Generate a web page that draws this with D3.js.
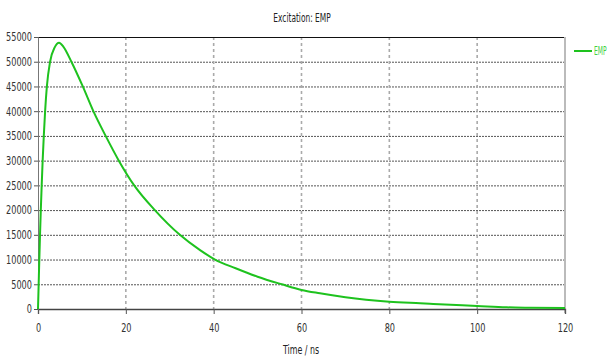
<!DOCTYPE html>
<html>
<head>
<meta charset="utf-8">
<script src="https://cdn.jsdelivr.net/npm/d3@7"></script>
<style>
  html, body { margin: 0; padding: 0; background: #fff; }
  svg { display: block; }
  text { font-family: "DejaVu Sans", "Liberation Sans", sans-serif; }
</style>
</head>
<body>
<svg id="chart" width="609" height="358"></svg>
<script>
// EMP excitation waveform: time (ns) and field amplitude
const timeNs = [0, 0.15, 0.3, 0.46, 0.64, 0.84, 1.06, 1.32, 1.62, 2.02, 2.75, 3.8, 4.8, 5.8, 7.6,
  10.2, 12.6, 15.4, 18.4, 21.9, 26.6, 32.3, 36.9, 40.3, 45, 50, 55.5, 60, 64.2, 70,
  80, 87, 90, 100, 106.7, 112, 120];
const empValues = [0, 5000, 10000, 15000, 20000, 25000, 30000, 35000, 40000, 45000, 50000, 52900, 53850, 53000, 50000,
  45000, 40000, 35000, 30000, 25000, 20000, 15000, 11900, 10000, 8230, 6530, 5000, 3850, 3170, 2370,
  1480, 1150, 1010, 610, 340, 260, 200];
const xTicks = [0, 20, 40, 60, 80, 100, 120];
const yTicks = [0, 5000, 10000, 15000, 20000, 25000, 30000, 35000, 40000, 45000, 50000, 55000];
const seriesName = "EMP";
const chartTitle = "Excitation: EMP";
const xTitle = "Time / ns";

const svg = d3.select("#chart");
const m = { left: 38, right: 565, top: 37, bottom: 309 };

const x = d3.scaleLinear().domain([0, 120]).range([m.left, m.right]);
const y = d3.scaleLinear().domain([0, 55000]).range([m.bottom, m.top]);

// narrow the glyphs to a condensed look
function condense(sel, k) {
  sel.each(function () {
    const w = this.getComputedTextLength();
    d3.select(this).attr("textLength", w * k).attr("lengthAdjust", "spacingAndGlyphs");
  });
}

// horizontal grid
svg.append("g").selectAll("line")
  .data(yTicks.filter(v => v > 0 && v < 55000))
  .join("line")
  .attr("x1", m.left).attr("x2", m.right)
  .attr("y1", d => y(d) + 0.5).attr("y2", d => y(d) + 0.5)
  .attr("stroke", "#555").attr("stroke-width", 1)
  .attr("stroke-dasharray", "2,1");

// vertical grid
svg.append("g").selectAll("line")
  .data(xTicks.filter(v => v > 0 && v < 120))
  .join("line")
  .attr("x1", d => x(d)).attr("x2", d => x(d))
  .attr("y1", m.top).attr("y2", m.bottom)
  .attr("stroke", "#aaa").attr("stroke-width", 1.6)
  .attr("stroke-dasharray", "3,3");

// frame: top black, right light gray
svg.append("line").attr("x1", m.left).attr("x2", m.right + 1)
  .attr("y1", m.top + 0.5).attr("y2", m.top + 0.5)
  .attr("stroke", "#111").attr("stroke-width", 1.2);
svg.append("line").attr("x1", m.right).attr("x2", m.right)
  .attr("y1", m.top).attr("y2", m.bottom + 4)
  .attr("stroke", "#bbb").attr("stroke-width", 2);

// axes
const xAxis = d3.axisBottom(x).tickValues(xTicks).tickSize(5).tickPadding(9).tickFormat(d3.format("d"));
const yAxis = d3.axisLeft(y).tickValues(yTicks).tickSize(4).tickPadding(2).tickFormat(d3.format("d"));

const gx = svg.append("g").attr("transform", `translate(0,${m.bottom})`).call(xAxis);
const gy = svg.append("g").attr("transform", `translate(${m.left},0)`).call(yAxis);
gx.select(".domain").attr("stroke", "#444").attr("stroke-width", 1.3);
gy.select(".domain").attr("stroke", "#777").attr("stroke-width", 1);
gx.selectAll(".tick line").attr("stroke", "#555");
gy.selectAll(".tick line").attr("stroke", "#555");
[gx, gy].forEach(g => g.selectAll(".tick text")
  .attr("fill", "#333").style("font-size", "12px").call(condense, 0.68));

// series line
const line = d3.line()
  .x((d, i) => x(timeNs[i]))
  .y(d => y(d))
  .curve(d3.curveMonotoneX);
svg.append("path")
  .datum(empValues)
  .attr("fill", "none")
  .attr("stroke", "#1ec21e")
  .attr("stroke-width", 2)
  .attr("d", line);

// title and axis label
svg.append("text").attr("x", 302).attr("y", 22)
  .attr("text-anchor", "middle").attr("fill", "#222")
  .style("font-size", "12px").text(chartTitle).call(condense, 0.62);
svg.append("text").attr("x", 301).attr("y", 354)
  .attr("text-anchor", "middle").attr("fill", "#222")
  .style("font-size", "12px").text(xTitle).call(condense, 0.66);

// legend
svg.append("line").attr("x1", 574).attr("x2", 592)
  .attr("y1", 51).attr("y2", 51)
  .attr("stroke", "#1ec21e").attr("stroke-width", 2);
svg.append("text")
  .attr("transform", "translate(594,55) scale(0.5,1)")
  .attr("fill", "#3fd23f").style("font-size", "12px").text(seriesName);
</script>
</body>
</html>
